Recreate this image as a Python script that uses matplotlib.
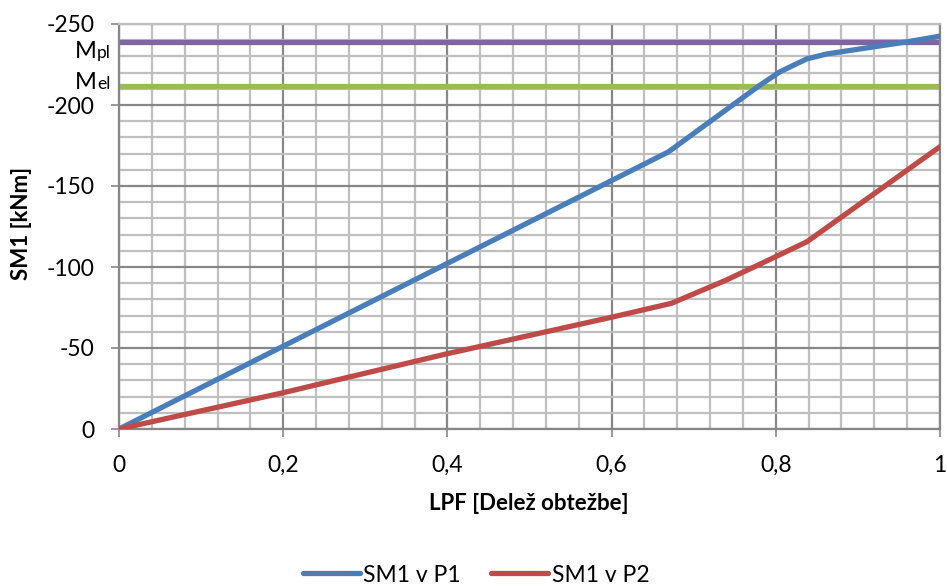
import matplotlib
matplotlib.use("Agg")
import matplotlib.pyplot as plt
from matplotlib.ticker import MultipleLocator, FuncFormatter

plt.rcParams['font.family'] = ['Lato', 'DejaVu Sans']

# Load proportion factor vs. bending moment SM1 at two sections
lpf_p1 = [0.0, 0.669, 0.78, 0.805, 0.838, 0.862, 0.96, 1.0]
sm1_p1 = [0.0, -171.0, -212.0, -220.5, -228.5, -231.5, -239.0, -242.5]

lpf_p2 = [0.0, 0.2, 0.4, 0.6, 0.673, 0.74, 0.8, 0.838, 1.0]
sm1_p2 = [0.0, -22.4, -46.5, -69.0, -77.6, -92.0, -106.4, -115.6, -174.3]

# Plastic and elastic moment capacities
m_pl = -239.0
m_el = -212.0

series_labels = ["SM1 v P1", "SM1 v P2"]
x_label = "LPF [Delež obtežbe]"
y_label = "SM1 [kNm]"

blue = "#4A7EBB"
red = "#BE4B48"
purple = "#8064A2"
green = "#9BBB59"
major_grey = "#878787"
minor_grey = "#BFBFBF"

fig = plt.figure(figsize=(9.47, 5.86), dpi=100)
ax = fig.add_axes([119 / 947, 1 - 429 / 586, 821 / 947, 405 / 586])

ax.set_xlim(0, 1)
ax.set_ylim(0, -250)

ax.xaxis.set_major_locator(MultipleLocator(0.2))
ax.xaxis.set_minor_locator(MultipleLocator(0.04))
ax.yaxis.set_major_locator(MultipleLocator(50))
ax.yaxis.set_minor_locator(MultipleLocator(10))

ax.grid(which='minor', color=minor_grey, linewidth=1.6, zorder=0)
ax.grid(which='major', color=major_grey, linewidth=1.6, zorder=0.5)
ax.set_axisbelow(True)

ax.xaxis.set_major_formatter(FuncFormatter(lambda v, p: f"{v:g}".replace('.', ',')))
ax.yaxis.set_major_formatter(FuncFormatter(lambda v, p: f"{v:g}"))

ax.tick_params(which='major', direction='out', length=5.5, width=1.2,
               color=major_grey, labelsize=16.5, labelcolor='black')
ax.tick_params(axis='x', which='major', pad=13)
ax.tick_params(axis='y', which='major', pad=12)
ax.tick_params(which='minor', length=0)

for side in ['left', 'bottom']:
    ax.spines[side].set_color(major_grey)
    ax.spines[side].set_linewidth(1.6)
ax.spines['top'].set_color(minor_grey)
ax.spines['top'].set_linewidth(1.6)
ax.spines['right'].set_color(major_grey)
ax.spines['right'].set_linewidth(1.6)

ax.axhline(m_pl, color=purple, linewidth=3.8, zorder=2)
ax.axhline(m_el, color=green, linewidth=3.8, zorder=2)

l1, = ax.plot(lpf_p1, sm1_p1, color=blue, linewidth=3.8, zorder=3,
              solid_joinstyle='round', solid_capstyle='round', label=series_labels[0])
l2, = ax.plot(lpf_p2, sm1_p2, color=red, linewidth=3.8, zorder=3,
              solid_joinstyle='round', solid_capstyle='round', label=series_labels[1])

# Capacity labels beside the y axis
ytr = ax.get_yaxis_transform()
x_lab = (97 - 119) / 821
ax.text(x_lab, -228.8, "M", transform=ytr, ha='right', va='baseline', fontsize=17, clip_on=False)
ax.text(x_lab, -228.8, "pl", transform=ytr, ha='left', va='baseline', fontsize=12.5, clip_on=False)
ax.text(x_lab, -209.7, "M", transform=ytr, ha='right', va='baseline', fontsize=17, clip_on=False)
ax.text(x_lab, -209.7, "el", transform=ytr, ha='left', va='baseline', fontsize=12.5, clip_on=False)

fig.text(22 / 947, 1 - 223 / 586, y_label, rotation=90, ha='center', va='center',
         fontsize=16, fontweight='bold')
fig.text(529 / 947, 1 - 503 / 586, x_label, ha='center', va='center',
         fontsize=16, fontweight='bold')

fig.legend(handles=[l1, l2], loc='center', bbox_to_anchor=(476 / 947, 1 - 575 / 586),
           ncol=2, frameon=False, fontsize=16.5, handlelength=2.5, handletextpad=0.15,
           columnspacing=1.3)

fig.savefig("out.png", dpi=100)
